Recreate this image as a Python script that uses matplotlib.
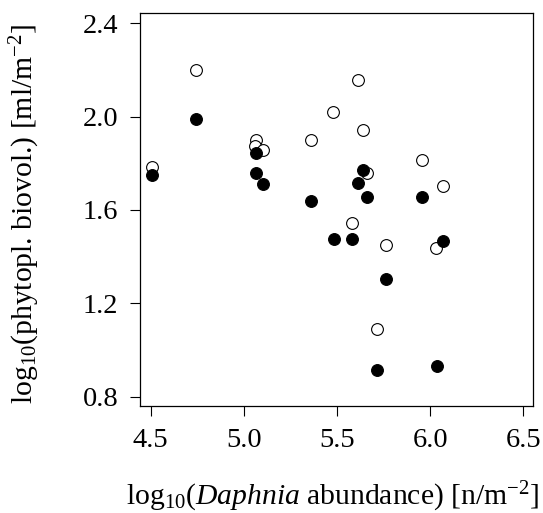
import numpy as np
import matplotlib
matplotlib.use("Agg")
import matplotlib.pyplot as plt

# open circles
open_x = [4.505, 4.742, 5.611, 5.480, 5.641, 5.358, 5.066, 5.061, 5.105, 5.954,
          5.659, 6.067, 5.578, 5.765, 6.032, 5.717]
open_y = [1.785, 2.199, 2.156, 2.019, 1.944, 1.900, 1.900, 1.874, 1.857, 1.813,
          1.757, 1.704, 1.545, 1.451, 1.436, 1.088]

# filled circles
fill_x = [4.505, 4.742, 5.066, 5.063, 5.105, 5.361, 5.641, 5.614, 5.659, 5.954,
          5.485, 5.578, 6.067, 5.765, 5.717, 6.038]
fill_y = [1.750, 1.990, 1.845, 1.757, 1.712, 1.638, 1.773, 1.714, 1.655, 1.655,
          1.475, 1.475, 1.467, 1.305, 0.914, 0.931]

xticks = [4.5, 5.0, 5.5, 6.0, 6.5]
yticks = [0.8, 1.2, 1.6, 2.0, 2.4]

plt.rcParams['font.family'] = ['Liberation Serif', 'DejaVu Serif']
plt.rcParams['mathtext.fontset'] = 'custom'
plt.rcParams['mathtext.rm'] = 'Liberation Serif'
plt.rcParams['mathtext.it'] = 'Liberation Serif:italic'

fig = plt.figure(figsize=(5.43, 5.13), dpi=100)
ax = fig.add_axes([0.2578, 0.2086, 0.7244, 0.7666])

ax.scatter(open_x, open_y, s=72, facecolor='white', edgecolor='black', linewidth=0.8, zorder=2)
ax.scatter(fill_x, fill_y, s=72, facecolor='black', edgecolor='black', linewidth=0.8, zorder=3)

ax.set_xlim(4.443, 6.553)
ax.set_ylim(0.760, 2.445)
ax.set_xticks(xticks)
ax.set_yticks(yticks)
ax.set_xticklabels(['%.1f' % v for v in xticks])
ax.set_yticklabels(['%.1f' % v for v in yticks])
ax.tick_params(direction='out', length=7.2, width=0.8, pad=8.5, labelsize=20.5)
for sp in ax.spines.values():
    sp.set_linewidth(0.9)

ax.set_xlabel(r'log$_{10}$($\it{Daphnia}$ abundance) [n/m$^{-2}$]', fontsize=21.3)
ax.set_ylabel(r'log$_{10}$(phytopl. biovol.) [ml/m$^{-2}$]', fontsize=21.3)
ax.xaxis.set_label_coords(0.4907, -0.188)
ax.yaxis.set_label_coords(-0.2492, 0.488)

fig.savefig('out.png', dpi=100)
